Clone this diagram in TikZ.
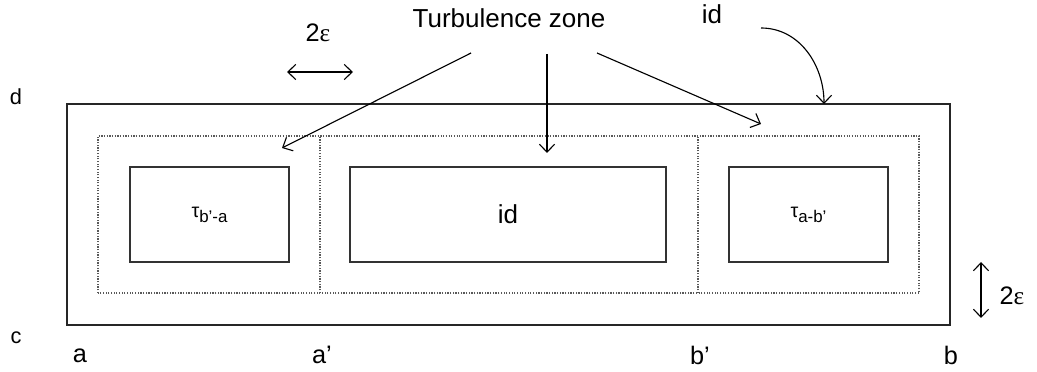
\documentclass[tikz,border=0pt]{standalone}
\usepackage{fontspec}
\setmainfont{Liberation Sans}
\newfontfamily\epsfont{Liberation Serif}
\usetikzlibrary{positioning,arrows.meta}
\newcommand{\lowidx}[1]{\raisebox{-3.5pt}{\fontsize{12}{13}\selectfont #1}}
\newcommand{\eps}{{\epsfont ε}}
\begin{document}
\begin{tikzpicture}[
        lbl/.style={font=\fontsize{15.5}{18}\selectfont, inner sep=0pt},
        low/.style={font=\fontsize{18}{21}\selectfont, inner sep=0pt},
        big/.style={font=\fontsize{18.5}{22}\selectfont, inner sep=0pt},
        cell/.style={draw, line width=1.1pt, black!80, text=black, minimum height=2.375cm, minimum width=#1, inner sep=0pt},
        dots/.style={densely dotted, line width=0.9pt, black!65},
        tip/.tip={Straight Barb[length=2mm,width=3.8mm,line width=0.8pt]},
        arr/.style={-tip, line width=0.8pt}]
    \useasboundingbox (0,0) rectangle (25.925,9.3);
    % \helpgrid{26}{9}
    \draw[line width=1.1pt, black!85] (1.675,1.175) rectangle (23.75,6.7);
    \draw[dots] (2.45,1.975) rectangle (22.975,5.9);
    \draw[dots] (8,1.975)--(8,5.9);
    \draw[dots] (17.45,1.975)--(17.45,5.9);

    \node[cell=3.975cm] (left) at (5.2375,3.9375) {\fontsize{14}{16}\selectfont τ\lowidx{b'-a}};
    \node[cell=7.9cm] (mid) at (12.7,3.9375) {\fontsize{18.5}{22}\selectfont id};
    \node[cell=3.975cm] (right) at (20.2125,3.9375) {\fontsize{14}{16}\selectfont τ\lowidx{a-b'}};

    \node[lbl] (d) at (0.4,6.875) {d};
    \node[lbl] (c) at (0.4,0.85) {c};
    \node[low] (a) at (2.0,0.4) {a};
    \node[low] (a1) at (8.05,0.425) {a'};
    \node[low] (b1) at (17.5,0.425) {b'};
    \node[low] (b) at (23.775,0.425) {b};

    \node[big] (tz) at (12.725,8.85) {Turbulence zone};
    \node[big] (idtop) at (17.8,8.95) {id};
    \node[low] (epsh) at (7.95,8.475) {2\eps};
    \node[low] (epsv) at (25.3,1.9) {2\eps};

    \coordinate (t1) at (11.775,7.975);
    \coordinate (t2) at (13.675,7.95);
    \coordinate (t3) at (14.925,7.975);
    \coordinate (z1) at (7.05,5.6);
    \coordinate (z2) at (13.675,5.475);
    \coordinate (z3) at (19.025,6.2);
    \draw[arr] (t1)--(z1);
    \draw[arr] (t2)--(z2);
    \draw[arr] (t3)--(z3);

    \coordinate (i0) at (19.025,8.6);
    \coordinate (i1) at (20.6,6.7);
    \draw[arr] (i0) to[out=0,in=90] (i1);

    \coordinate (h0) at (7.175,7.5);
    \coordinate (h1) at (8.825,7.5);
    \draw[tip-tip, line width=0.8pt] (h0)--(h1);
    \coordinate (v0) at (24.525,2.75);
    \coordinate (v1) at (24.525,1.35);
    \draw[tip-tip, line width=0.8pt] (v0)--(v1);
\end{tikzpicture}
\end{document}
